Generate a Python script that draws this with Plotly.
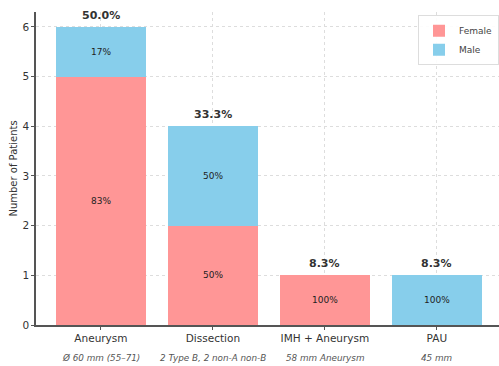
import plotly.graph_objects as go

categories = ["Aneurysm", "Dissection", "IMH + Aneurysm", "PAU"]
subtitles = ["Ø 60 mm (55–71)", "2 Type B, 2 non-A non-B", "58 mm Aneurysm", "45 mm"]
female = [5, 2, 1, 0]
male = [1, 2, 0, 1]

FEMALE_C = "#FF9696"
MALE_C = "#87CEEB"

totals = [f + m for f, m in zip(female, male)]
grand = sum(totals)
xs = list(range(len(categories)))

fig = go.Figure()
fig.add_trace(go.Bar(x=xs, y=female, name="Female", marker_color=FEMALE_C, marker_line_width=0))
fig.add_trace(go.Bar(x=xs, y=male, name="Male", marker_color=MALE_C, marker_line_width=0))

ann = []
for i, (f, m, t) in enumerate(zip(female, male, totals)):
    ann.append(dict(x=i, y=t, xref="x", yref="y", text="<b>%.1f%%</b>" % (100 * t / grand),
                    showarrow=False, yanchor="bottom", yshift=3,
                    font=dict(size=11, color="#333333", family="DejaVu Sans")))
    if f > 0:
        ann.append(dict(x=i, y=f / 2, xref="x", yref="y", text="%d%%" % round(100 * f / t),
                        showarrow=False, font=dict(size=9, color="#222222", family="DejaVu Sans")))
    if m > 0:
        ann.append(dict(x=i, y=f + m / 2, xref="x", yref="y", text="%d%%" % round(100 * m / t),
                        showarrow=False, font=dict(size=9, color="#222222", family="DejaVu Sans")))
    ann.append(dict(x=i, y=0, xref="x", yref="paper", text="<i>%s</i>" % subtitles[i],
                    showarrow=False, yanchor="middle", yshift=-33,
                    font=dict(size=8.8, color="#555555", family="DejaVu Sans")))

fig.update_layout(
    width=499, height=366,
    margin=dict(l=36, r=0, t=12, b=41, autoexpand=False),
    paper_bgcolor="white", plot_bgcolor="white",
    barmode="stack", bargap=0.2,
    font=dict(family="DejaVu Sans", color="#333333", size=10),
    annotations=ann,
    legend=dict(x=1.0, y=0.99, xanchor="right", yanchor="top",
                bgcolor="rgba(255,255,255,0.9)", bordercolor="#dddddd", borderwidth=1,
                font=dict(size=9, color="#444444"), itemwidth=30,
                tracegroupgap=0, traceorder="normal"),
    showlegend=True,
)
fig.update_xaxes(
    range=[-0.58, 3.555], tickmode="array", tickvals=xs, ticktext=categories,
    showline=True, linecolor="#555555", linewidth=1.5,
    ticks="outside", ticklen=3, tickcolor="#555555",
    showgrid=True, gridcolor="#dddddd", griddash="dot", gridwidth=1,
    tickfont=dict(size=10.5, color="#333333"), zeroline=False,
)
fig.update_yaxes(
    range=[0, 6.3], tickmode="array", tickvals=[0, 1, 2, 3, 4, 5, 6],
    showline=True, linecolor="#555555", linewidth=1.5,
    ticks="outside", ticklen=3, tickcolor="#555555",
    showgrid=True, gridcolor="#dddddd", griddash="dot", gridwidth=1,
    tickfont=dict(size=10.5, color="#333333"), zeroline=False,
    title=dict(text="Number of Patients", font=dict(size=10, color="#333333"), standoff=3),
)

fig.write_html("out.html")
